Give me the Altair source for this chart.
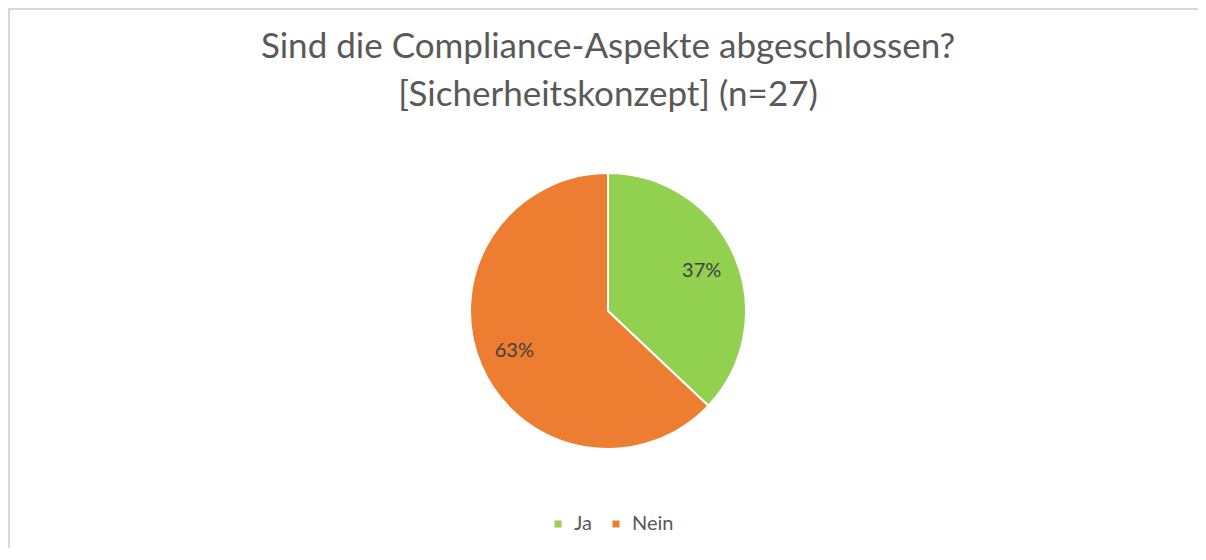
import altair as alt
import pandas as pd

categories = ["Ja", "Nein"]
counts = [10, 17]
colors = ["#92D050", "#ED7D31"]
title_lines = ["Sind die Compliance-Aspekte abgeschlossen?", "[Sicherheitskonzept] (n=27)"]

total = sum(counts)
df = pd.DataFrame({
    "Antwort": categories,
    "Anzahl": counts,
    "idx": list(range(len(categories))),
    "label": [f"{round(c / total * 100)}%" for c in counts],
})

W, H = 1190, 540
CX, CY, R = 600, 303, 138
FONT = "Lato"

base = alt.Chart(df).encode(
    theta=alt.Theta("Anzahl:Q", stack=True),
    order=alt.Order("idx:O"),
)

arcs = base.mark_arc(radius=R, stroke="white", strokeWidth=2).encode(
    x=alt.value(CX),
    y=alt.value(CY),
    color=alt.Color(
        "Antwort:N",
        scale=alt.Scale(domain=categories, range=colors),
        sort=categories,
        legend=alt.Legend(
            orient="none",
            legendX=540,
            legendY=506,
            direction="horizontal",
            title=None,
            symbolType="square",
            symbolSize=49,
            symbolStrokeWidth=0,
            labelFontSize=20,
            labelFont=FONT,
            labelColor="#595959",
            labelOffset=6,
            columnPadding=14,
        ),
    ),
)

labels = base.mark_text(radius=102, font=FONT, fontSize=20, color="#404040").encode(
    x=alt.value(CX),
    y=alt.value(CY),
    text="label:N",
)

title1 = alt.Chart(pd.DataFrame({"t": [title_lines[0]]})).mark_text(
    font=FONT, fontSize=35, color="#595959", baseline="alphabetic", align="center"
).encode(x=alt.value(CX), y=alt.value(50), text="t:N")
title2 = alt.Chart(pd.DataFrame({"t": [title_lines[1]]})).mark_text(
    font=FONT, fontSize=35, color="#595959", baseline="alphabetic", align="center"
).encode(x=alt.value(CX), y=alt.value(98), text="t:N")

border_df = pd.DataFrame({"d": [0]})
top_rule = alt.Chart(border_df).mark_rule(color="#d9d9d9", strokeWidth=2).encode(
    x=alt.value(0), x2=alt.value(W), y=alt.value(1)
)
left_rule = alt.Chart(border_df).mark_rule(color="#d9d9d9", strokeWidth=2).encode(
    x=alt.value(1), y=alt.value(0), y2=alt.value(H)
)

chart = alt.layer(arcs, labels, title1, title2, top_rule, left_rule).properties(
    width=W, height=H, padding=0, autosize=alt.AutoSizeParams(type="none"),
    background="white",
).configure_view(stroke=None)

chart.save("out.html", embed_options={"renderer": "svg", "actions": False})
